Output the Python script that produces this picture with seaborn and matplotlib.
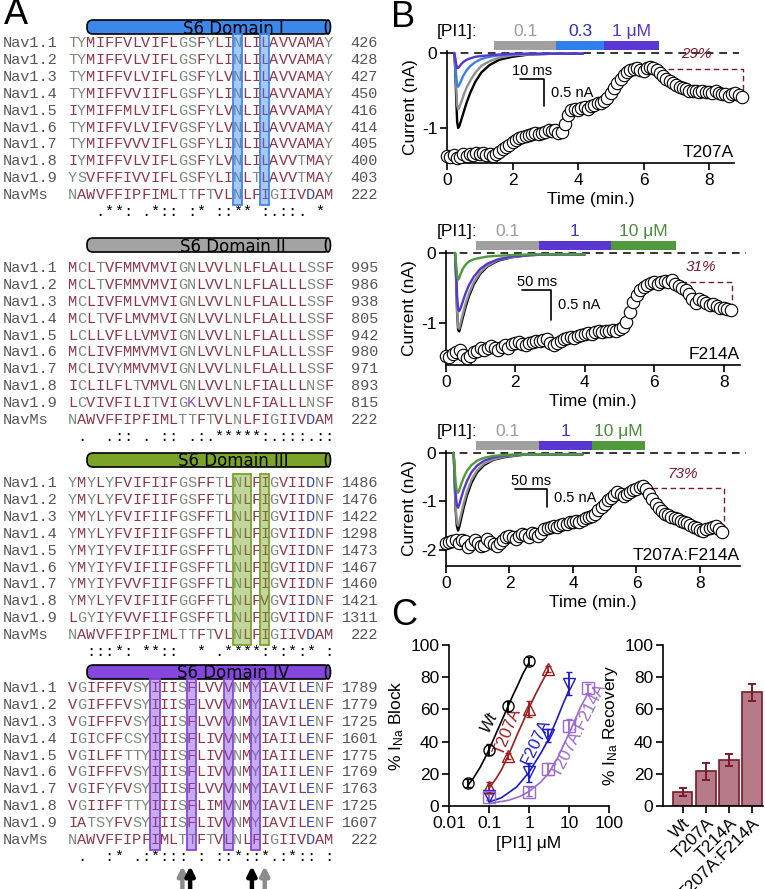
import numpy as np
import matplotlib
matplotlib.use("Agg")
import matplotlib.pyplot as plt
import seaborn as sns
from matplotlib.colors import to_rgba
from matplotlib.patches import FancyBboxPatch, Ellipse, Rectangle

# ---------------- panel A: S6 alignment ----------------
CHANNELS = ["Nav1.1", "Nav1.2", "Nav1.3", "Nav1.4", "Nav1.5",
            "Nav1.6", "Nav1.7", "Nav1.8", "Nav1.9", "NavMs"]

S6_DOMAIN_I = [
    "TYMIFFVLVIFLGSFYLINLILAVVAMAY", "TYMIFFVLVIFLGSFYLINLILAVVAMAY",
    "TYMIFFVLVIFLGSFYLVNLILAVVAMAY", "TYMIFFVVIIFLGSFYLINLILAVVAMAY",
    "IYMIFFMLVIFLGSFYLVNLILAVVAMAY", "TYMIFFVLVIFVGSFYLVNLILAVVAMAY",
    "TYMIFFVVVIFLGSFYLINLILAVVAMAY", "IYMIFFVLVIFLGSFYLVNLILAVVTMAY",
    "YSVFFFIVVIFLGSFYLINLTLAVVTMAY", "NAWVFFIPFIMLTTFTVLNLFIGIIVDAM"]
S6_DOMAIN_II = [
    "MCLTVFMMVMVIGNLVVLNLFLALLLSSF", "MCLTVFMMVMVIGNLVVLNLFLALLLSSF",
    "MCLIVFMLVMVIGNLVVLNLFLALLLSSF", "MCLTVFLMVMVIGNLVVLNLFLALLLSSF",
    "LCLLVFLLVMVIGNLVVLNLFLALLLSSF", "MCLIVFMMVMVIGNLVVLNLFLALLLSSF",
    "MCLIVYMMVMVIGNLVVLNLFLALLLSSF", "ICLILFLTVMVLGNLVVLNLFIALLLNSF",
    "LCVIVFILITVIGKLVVLNLFIALLLNSF", "NAWVFFIPFIMLTTFTVLNLFIGIIVDAM"]
S6_DOMAIN_III = [
    "YMYLYFVIFIIFGSFFTLNLFIGVIIDNF", "YMYLYFVIFIIFGSFFTLNLFIGVIIDNF",
    "YMYLYFVIFIIFGSFFTLNLFIGVIIDNF", "YMYLYFVIFIIFGSFFTLNLFIGVIIDNF",
    "YMYIYFVIFIIFGSFFTLNLFIGVIIDNF", "YMYIYFVIFIIFGSFFTLNLFIGVIIDNF",
    "YMYIYFVVFIIFGSFFTLNLFIGVIIDNF", "YMYLYFVIFIIFGGFFTLNLFVGVIIDNF",
    "LGYIYFVVFIIFGSFFTLNLFIGVIIDNF", "NAWVFFIPFIMLTTFTVLNLFIGIIVDAM"]
S6_DOMAIN_IV = [
    "VGIFFFVSYIIISFLVVVNMYIAVILENF", "VGIFFFVSYIIISFLVVVNMYIAVILENF",
    "VGIFFFVSYIIISFLVVVNMYIAVILENF", "IGICFFCSYIIISFLIVVNMYIAIILENF",
    "VGILFFTTYIIISFLIVVNMYIAIILENF", "VGIFFFVSYIIISFLIVVNMYIAIILENF",
    "VGIFYFVSYIIISFLVVVNMYIAVILENF", "VGIIFFTTYIIISFLIMVNMYIAVILENF",
    "IATSYFVSYIIISFLIVVNMYIAVILENF", "NAWVFFIPFIMLTTFTVLNLFIGIIVDAM"]
END_I = [426, 428, 427, 450, 416, 414, 405, 400, 403, 222]
END_II = [995, 986, 938, 805, 942, 980, 971, 893, 815, 222]
END_III = [1486, 1476, 1422, 1298, 1473, 1467, 1460, 1421, 1311, 222]
END_IV = [1789, 1779, 1725, 1601, 1775, 1769, 1763, 1725, 1607, 222]
CONSERVATION = ["   .**: .*:: :* ::** :.::. * ",
                " .  .:: . :: .:.*****:.:::.::",
                "  :::*: **::  * .****:*:*:* :",
                " .  :* .:*::: : ::*::*.:*:: :"]
DOMAIN_TITLES = ["S6 Domain I", "S6 Domain II", "S6 Domain III", "S6 Domain IV"]
DOMAIN_COLORS = ["#3d86ea", "#a3a3a3", "#7ba329", "#8446dc"]
# (first column, number of columns) of each highlighted block
HIGHLIGHTS = [[(18, 1), (21, 1)], [], [(18, 2), (21, 1)],
              [(9, 1), (13, 1), (17, 1), (20, 1)]]
ARROW_COLS = [12.0, 12.85, 19.6, 21.0]
ARROW_COLORS = ["#8c8c8c", "black", "black", "#8c8c8c"]

RESIDUE_COLORS = {"AVFPMILW": "#8f3648", "STYHCNGQ": "#7c8b7c",
                  "DE": "#3443c8", "RK": "#8a4fd6"}

# ---------------- panel B: PI1 wash-in / wash-out ----------------
B_TIME_MIN = [
    0.0, 0.1, 0.2, 0.3, 0.4, 0.5, 0.6, 0.7, 0.8, 0.9,
    1.0, 1.1, 1.2, 1.3, 1.4, 1.5, 1.6, 1.7, 1.8, 1.9,
    2.0, 2.1, 2.2, 2.3, 2.4, 2.5, 2.6, 2.7, 2.8, 2.9,
    3.0, 3.1, 3.2, 3.3, 3.4, 3.5, 3.6, 3.7, 3.8, 3.9,
    4.0, 4.1, 4.2, 4.3, 4.4, 4.5, 4.6, 4.7, 4.8, 4.9,
    5.0, 5.1, 5.2, 5.3, 5.4, 5.5, 5.6, 5.7, 5.8, 5.9,
    6.0, 6.1, 6.2, 6.3, 6.4, 6.5, 6.6, 6.7, 6.8, 6.9,
    7.0, 7.1, 7.2, 7.3, 7.4, 7.5, 7.6, 7.7, 7.8, 7.9,
    8.0, 8.1, 8.2, 8.3, 8.4, 8.5, 8.6, 8.7, 8.8, 8.9, 9.0]
T207A_CURRENT = [
    -1.37, -1.39, -1.36, -1.40, -1.38, -1.35, -1.37, -1.34, -1.36, -1.33,
    -1.35, -1.33, -1.36, -1.34, -1.37, -1.35, -1.32, -1.28, -1.25, -1.22,
    -1.18, -1.16, -1.13, -1.12, -1.10, -1.09, -1.08, -1.07, -1.08, -1.06,
    -1.05, -1.03, -1.04, -1.02, -1.06, -1.05, -0.95, -0.82, -0.76, -0.74,
    -0.76, -0.73, -0.72, -0.74, -0.70, -0.69, -0.67, -0.66, -0.64, -0.60,
    -0.53, -0.46, -0.40, -0.34, -0.29, -0.25, -0.23, -0.21, -0.20, -0.22,
    -0.24, -0.20, -0.18, -0.20, -0.23, -0.27, -0.31, -0.34, -0.37, -0.40,
    -0.43, -0.45, -0.47, -0.48, -0.50, -0.50, -0.51, -0.52, -0.51, -0.52,
    -0.52, -0.53, -0.51, -0.53, -0.55, -0.54, -0.57, -0.55, -0.53, -0.56,
    -0.58]
F214A_CURRENT = [
    -1.47, -1.48, -1.44, -1.41, -1.38, -1.45, -1.50, -1.47, -1.42, -1.40,
    -1.36, -1.38, -1.35, -1.33, -1.36, -1.38, -1.34, -1.32, -1.35, -1.30,
    -1.28, -1.27, -1.30, -1.32, -1.29, -1.27, -1.25, -1.26, -1.24, -1.23,
    -1.28, -1.31, -1.28, -1.25, -1.23, -1.22, -1.20, -1.21, -1.18, -1.17,
    -1.15, -1.14, -1.15, -1.13, -1.12, -1.13, -1.11, -1.12, -1.10, -1.11,
    -1.08, -1.06, -0.98, -0.84, -0.70, -0.60, -0.53, -0.48, -0.45, -0.43,
    -0.42, -0.44, -0.42, -0.40, -0.42, -0.38, -0.44, -0.47, -0.50, -0.53,
    -0.58, -0.65, -0.72, -0.66, -0.68, -0.71, -0.74, -0.73, -0.76, -0.78,
    -0.79, -0.80, -0.81]
DOUBLE_CURRENT = [
    -1.86, -1.84, -1.82, -1.80, -1.85, -1.79, -1.82, -1.94, -1.88, -1.80,
    -1.86, -1.92, -1.89, -1.78, -1.84, -1.88, -1.92, -1.85, -1.79, -1.74,
    -1.72, -1.74, -1.77, -1.72, -1.68, -1.70, -1.73, -1.66, -1.68, -1.71,
    -1.64, -1.57, -1.55, -1.53, -1.50, -1.52, -1.48, -1.46, -1.47, -1.43,
    -1.42, -1.40, -1.43, -1.38, -1.35, -1.33, -1.30, -1.25, -1.18, -1.12,
    -1.06, -0.98, -0.92, -0.86, -0.80, -0.84, -0.88, -0.85, -0.80, -0.76,
    -0.74, -0.71, -0.69, -0.74, -0.85, -0.95, -1.05, -1.14, -1.20, -1.25,
    -1.28, -1.32, -1.35, -1.37, -1.40, -1.43, -1.45, -1.49, -1.52, -1.55,
    -1.58, -1.60, -1.57, -1.55, -1.52, -1.50, -1.56, -1.62]
B_CURRENTS = [T207A_CURRENT, F214A_CURRENT, DOUBLE_CURRENT]
B_MUTANTS = ["T207A", "F214A", "T207A:F214A"]
B_RECOVERY_TEXT = ["29%", "31%", "73%"]

# sodium current sweeps drawn as insets (x in the same minute axis)
TRACE_T_T207A = [0.22, 0.25, 0.28, 0.31, 0.34, 0.38, 0.43, 0.50, 0.60,
                 0.72, 0.87, 1.05, 1.30, 1.60, 2.00, 2.50, 3.20, 4.15]
TRACES_T207A = [
    [0, -0.20, -0.60, -0.92, -1.00, -0.97, -0.90, -0.80, -0.66,
     -0.52, -0.38, -0.26, -0.16, -0.09, -0.05, -0.02, -0.01, -0.01],
    [0, -0.15, -0.45, -0.70, -0.75, -0.72, -0.66, -0.57, -0.46,
     -0.36, -0.26, -0.17, -0.11, -0.06, -0.03, -0.02, -0.01, -0.01],
    [0, -0.10, -0.30, -0.43, -0.45, -0.42, -0.37, -0.30, -0.23,
     -0.17, -0.12, -0.08, -0.05, -0.03, -0.02, -0.01, -0.01, -0.01],
    [0, -0.06, -0.15, -0.20, -0.20, -0.18, -0.15, -0.12, -0.09,
     -0.07, -0.05, -0.04, -0.03, -0.02, -0.01, -0.01, -0.01, -0.01]]
TRACE_T_F214A = [0.26, 0.29, 0.32, 0.35, 0.38, 0.42, 0.48, 0.56, 0.66,
                 0.80, 0.98, 1.20, 1.50, 1.90, 2.40, 3.00, 4.00]
TRACES_F214A = [
    [0, -0.35, -0.85, -1.10, -1.12, -1.05, -0.93, -0.78, -0.62,
     -0.45, -0.30, -0.19, -0.11, -0.06, -0.03, -0.02, -0.02],
    [0, -0.33, -0.82, -1.06, -1.08, -1.00, -0.88, -0.73, -0.58,
     -0.42, -0.28, -0.18, -0.10, -0.06, -0.03, -0.02, -0.02],
    [0, -0.25, -0.62, -0.80, -0.83, -0.79, -0.70, -0.58, -0.46,
     -0.34, -0.23, -0.15, -0.09, -0.05, -0.03, -0.02, -0.02],
    [0, -0.15, -0.32, -0.38, -0.36, -0.30, -0.23, -0.17, -0.12,
     -0.09, -0.07, -0.05, -0.04, -0.03, -0.02, -0.02, -0.02]]
TRACE_T_DOUBLE = [0.24, 0.27, 0.30, 0.34, 0.38, 0.42, 0.48, 0.56, 0.66,
                  0.80, 0.98, 1.20, 1.50, 1.90, 2.40, 3.00, 4.30]
TRACES_DOUBLE = [
    [0, -0.50, -1.15, -1.50, -1.60, -1.52, -1.35, -1.12, -0.88,
     -0.62, -0.40, -0.25, -0.14, -0.08, -0.04, -0.03, -0.03],
    [0, -0.47, -1.08, -1.41, -1.50, -1.42, -1.25, -1.03, -0.80,
     -0.56, -0.36, -0.22, -0.13, -0.07, -0.04, -0.03, -0.03],
    [0, -0.36, -0.82, -1.07, -1.13, -1.06, -0.92, -0.75, -0.58,
     -0.40, -0.26, -0.16, -0.09, -0.05, -0.03, -0.03, -0.03],
    [0, -0.27, -0.60, -0.78, -0.82, -0.76, -0.64, -0.50, -0.37,
     -0.25, -0.16, -0.10, -0.06, -0.04, -0.03, -0.03, -0.03]]
B_TRACE_T = [TRACE_T_T207A, TRACE_T_F214A, TRACE_T_DOUBLE]
B_TRACES = [TRACES_T207A, TRACES_F214A, TRACES_DOUBLE]
B_TRACE_COLORS = [["black", "#8f8f8f", "#3f80e6", "#5a37d2"],
                  ["black", "#8f8f8f", "#5836cf", "#4e9a3c"],
                  ["black", "#8f8f8f", "#5836cf", "#4e9a3c"]]

# PI1 application epochs (minutes) and doses
PI1_EPOCHS = [[1.43, 3.34, 4.80, 6.47],
              [0.86, 2.68, 4.75, 6.63],
              [0.94, 2.93, 4.60, 6.27]]
PI1_DOSES = [["0.1", "0.3", "1 \u03bcM"], ["0.1", "1", "10 \u03bcM"],
             ["0.1", "1", "10 \u03bcM"]]
PI1_BAR_COLORS = [["#a0a0a0", "#2f80ea", "#5a37d2"],
                  ["#a0a0a0", "#5836cf", "#4e9a3c"],
                  ["#a0a0a0", "#5836cf", "#4e9a3c"]]
PI1_TEXT_COLORS = [["#9c9c9c", "#2b30b5", "#5533c8"],
                   ["#9c9c9c", "#4433bb", "#4a8c3a"],
                   ["#9c9c9c", "#4433bb", "#4a8c3a"]]
SCALE_TIME = ["10 ms", "50 ms", "50 ms"]

# ---------------- panel C ----------------
WT_CONC, WT_BLOCK, WT_SEM = [0.03, 0.1, 0.3, 1.0], [14, 35, 62, 90], [2.5, 3.5, 3, 2.5]
T207A_CONC, T207A_BLOCK, T207A_SEM = [0.1, 0.3, 1, 3], [12, 31, 60, 85], [3, 2, 5, 2]
F207A_CONC, F207A_BLOCK, F207A_SEM = [0.1, 1, 3, 10], [6, 21, 44, 76], [2, 6, 4, 7]
DBL_CONC, DBL_BLOCK, DBL_SEM = [0.1, 1, 3, 10, 30], [5.5, 9, 23, 50, 73], [2, 2.5, 3.5, 4, 3]
WT_FIT_X = [0.03, 0.04, 0.06, 0.08, 0.1, 0.15, 0.2, 0.3, 0.4, 0.5, 0.7, 1.0]
WT_FIT_Y = [13, 17, 24, 30, 35, 45, 52, 62, 69, 74, 82, 89]
T207A_FIT_X = [0.1, 0.15, 0.2, 0.3, 0.5, 0.7, 1, 1.5, 2, 3]
T207A_FIT_Y = [11, 17, 22, 31, 44, 52, 61, 70, 76, 84]
F207A_FIT_X = [0.1, 0.2, 0.3, 0.5, 1, 2, 3, 5, 7, 10]
F207A_FIT_Y = [2.5, 5, 8, 12, 21, 33, 41, 54, 63, 72]
DBL_FIT_X = [0.1, 0.3, 0.6, 1, 2, 3, 5, 10, 20, 30]
DBL_FIT_Y = [1.5, 3.5, 6, 9, 15, 20, 29, 45, 62, 70]
DOSE_NAMES = ["Wt", "T207A", "F207A", "T207A:F214A"]
DOSE_COLORS = ["black", "#9b1c1c", "#1a1acc", "#9a6ad0"]
DOSE_MARKERS = ["o", "^", "v", "s"]
DOSE_LABEL_POS = [(0.1, 52, 65), (0.3, 46, 68), (1.5, 40, 65), (18.0, 47, 63)]

RECOVERY_NAMES = ["Wt", "T207A", "T214A", "T207A:F214A"]
RECOVERY_MEAN = [8.5, 21.5, 28.5, 70.5]
RECOVERY_SEM = [2.5, 5.5, 3.5, 5.5]
DARK_RED = "#7a1a2a"

# ---------------- figure ----------------
W, H = 765, 889
sns.set_theme(style="ticks", rc={"axes.edgecolor": "black", "xtick.color": "black",
                                 "ytick.color": "black", "text.color": "black",
                                 "axes.labelcolor": "black"})
plt.rcParams["font.family"] = ["Liberation Sans", "DejaVu Sans"]
plt.rcParams["mathtext.fontset"] = "custom"
plt.rcParams["mathtext.rm"] = "Liberation Sans"
plt.rcParams["mathtext.it"] = "Liberation Sans:italic"

fig = plt.figure(figsize=(W / 100, H / 100), dpi=100)
ov = fig.add_axes([0, 0, 1, 1])
ov.set_xlim(0, W)
ov.set_ylim(H, 0)
ov.axis("off")


def px_axes(left, top, right, bottom):
    ax = fig.add_axes([left / W, 1 - bottom / H, (right - left) / W, (bottom - top) / H])
    ax.patch.set_visible(False)
    return ax


def style(ax, size=12.5):
    sns.despine(ax=ax)
    for s in ("left", "bottom"):
        ax.spines[s].set_linewidth(1.2)
    ax.tick_params(direction="out", length=5, width=1.2, labelsize=size, pad=2)


def residue_color(aa):
    for group, c in RESIDUE_COLORS.items():
        if aa in group:
            return c
    return "#7c8b7c"


# ---- panel A ----
CW, X0, PITCH = 9.15, 68, 16.9
ROW0 = [43, 268, 483, 688]
BAR_TOP = [20, 238, 453, 665]
mono = dict(family="Liberation Mono", fontsize=11, va="center")


def col_x(i):
    return X0 + (i + 0.5) * CW


blocks = zip([S6_DOMAIN_I, S6_DOMAIN_II, S6_DOMAIN_III, S6_DOMAIN_IV],
             [END_I, END_II, END_III, END_IV], CONSERVATION,
             DOMAIN_TITLES, DOMAIN_COLORS, HIGHLIGHTS)
for b, (seqs, ends, cons, title, color, hl) in enumerate(blocks):
    y0, bt, bh = ROW0[b], BAR_TOP[b], 14
    ov.add_patch(FancyBboxPatch((87, bt), 243, bh, boxstyle="round,pad=0,rounding_size=6",
                                fc=color, ec="black", lw=1.2))
    ov.add_patch(Ellipse((328, bt + bh / 2), 5, bh, fc=color, ec="black", lw=1.2))
    ov.text(233, bt + bh / 2 + 1.5, title, ha="center", va="center",
            fontsize=12, family="DejaVu Sans")
    for r, (name, seq, end) in enumerate(zip(CHANNELS, seqs, ends)):
        y = y0 + r * PITCH
        ov.text(3, y, name, color="#555555", ha="left", **mono)
        for i, aa in enumerate(seq):
            ov.text(col_x(i), y, aa, color=residue_color(aa), ha="center", **mono)
        ov.text(378, y, str(end), color="#555555", ha="right", **mono)
    yc = y0 + len(CHANNELS) * PITCH
    for i, c in enumerate(cons):
        if c != " ":
            ov.text(col_x(i), yc, c, color="black", ha="center", **mono)
    for col, n in hl:
        ov.add_patch(Rectangle((X0 + col * CW, y0 - 9), n * CW, 9 * PITCH + 19,
                               fc=to_rgba(color, 0.45), ec=color, lw=1.3, zorder=3))

for col, c in zip(ARROW_COLS, ARROW_COLORS):
    ov.annotate("", xy=(col_x(col), 866), xytext=(col_x(col), 889),
                arrowprops=dict(arrowstyle="-|>", lw=3.2, color=c, mutation_scale=13,
                                shrinkA=0, shrinkB=0))

for letter, x, y in [("A", 4, -3), ("B", 391, 0), ("C", 391, 598)]:
    ov.text(x, y, letter, fontsize=26, va="top", ha="left")

# ---- panel B ----
B_AX_PX = [(447, 50.75, 733.6, 163.25), (446, 250.9, 740, 365), (446, 451, 740, 566)]
B_XLIM = [(0, 8.75), (0, 8.47), (0, 9.26)]
B_YLIM = [(-1.47, 0.03), (-1.6, 0.03), (-2.33, 0.04)]
B_YTICKS = [[-1, 0], [-1, 0], [-2, -1, 0]]
SCALE_BARS = [(2.23, 2.96, -0.35, -0.71), (2.19, 3.03, -0.53, -0.96), (2.17, 3.18, -0.75, -1.11)]

for k in range(3):
    ax = px_axes(*B_AX_PX[k])
    curr = np.array(B_CURRENTS[k])
    t = np.array(B_TIME_MIN[:len(curr)])

    ax.axhline(0, xmax=1.02, ls=(0, (4, 3)), color="#333333", lw=1.4, clip_on=False)
    for vals, c in zip(B_TRACES[k], B_TRACE_COLORS[k]):
        sns.lineplot(x=B_TRACE_T[k], y=vals, color=c, lw=1.7, ax=ax,
                     sort=False, estimator=None, legend=False)
    sns.scatterplot(x=t, y=curr, s=80, color="white", edgecolor="black",
                    linewidth=0.8, ax=ax, zorder=4, clip_on=False, legend=False)

    # recovery bracket from the peak to the last sample
    pk = int(np.argmax(curr))
    ax.plot([t[pk], t[-1] + 0.05, t[-1] + 0.05], [curr[pk] - 0.03, curr[pk] - 0.03, curr[-1]],
            ls=(0, (4, 2.5)), color=DARK_RED, lw=1.0, zorder=3, clip_on=False)
    ax.annotate(B_RECOVERY_TEXT[k], xy=((t[pk] + t[-1]) / 2, curr[pk]), xytext=(0, 4),
                textcoords="offset points", ha="center", va="bottom",
                color=DARK_RED, fontsize=11, style="italic")

    # PI1 application bars
    ep = PI1_EPOCHS[k]
    for j in range(3):
        ax.axvspan(ep[j], ep[j + 1], ymin=1.005, ymax=1.085,
                   color=PI1_BAR_COLORS[k][j], lw=0, clip_on=False)
        ax.text((ep[j] + ep[j + 1]) / 2, 1.17, PI1_DOSES[k][j],
                transform=ax.get_xaxis_transform(), ha="center", va="center",
                color=PI1_TEXT_COLORS[k][j], fontsize=12.5)
    ax.text(0.108, 1.17, "[PI1]:", transform=ax.transAxes, ha="right",
            va="center", fontsize=12.5)

    # inset scale bar
    x0, x1, y0, y1 = SCALE_BARS[k]
    ax.plot([x0, x1, x1], [y0, y0, y1], color="black", lw=1.2)
    ax.annotate(SCALE_TIME[k], xy=((x0 + x1) / 2, y0), xytext=(0, 1),
                textcoords="offset points", ha="center", va="bottom", fontsize=10.5)
    ax.annotate("0.5 nA", xy=(x1, (y0 + y1) / 2), xytext=(5, 0),
                textcoords="offset points", ha="left", va="center", fontsize=10.5)

    ax.text(1.0, 0.03, B_MUTANTS[k], transform=ax.transAxes, ha="right",
            va="bottom", fontsize=12.5)
    ax.set_xlim(*B_XLIM[k])
    ax.set_ylim(*B_YLIM[k])
    ax.set_xticks([0, 2, 4, 6, 8])
    ax.set_yticks(B_YTICKS[k])
    ax.set_yticklabels([str(v) for v in B_YTICKS[k]])
    ax.set_xlabel("Time (min.)", fontsize=12.5, labelpad=3)
    ax.set_ylabel("Current (nA)", fontsize=12.5, labelpad=3)
    style(ax)

# ---- panel C: dose response ----
axc = px_axes(449, 645, 609, 806)
series = [(WT_CONC, WT_BLOCK, WT_SEM, WT_FIT_X, WT_FIT_Y),
          (T207A_CONC, T207A_BLOCK, T207A_SEM, T207A_FIT_X, T207A_FIT_Y),
          (F207A_CONC, F207A_BLOCK, F207A_SEM, F207A_FIT_X, F207A_FIT_Y),
          (DBL_CONC, DBL_BLOCK, DBL_SEM, DBL_FIT_X, DBL_FIT_Y)]
for (cx, cy, ce, fx, fy), name, c, m, (lx, ly, rot) in zip(
        series, DOSE_NAMES, DOSE_COLORS, DOSE_MARKERS, DOSE_LABEL_POS):
    sns.lineplot(x=fx, y=fy, color=c, lw=1.2, ax=axc, sort=False,
                 estimator=None, legend=False)
    axc.errorbar(cx, cy, yerr=ce, fmt=m, mfc="none", mec=c, ecolor=c, ms=8,
                 mew=1.0, capsize=2.5, elinewidth=1.3, capthick=1.3, clip_on=False, zorder=3)
    axc.text(lx, ly, name, color=c, rotation=rot, ha="center", va="center",
             fontsize=12, style="italic" if name == "Wt" else "normal")
axc.set_xscale("log")
axc.set_xlim(0.01, 100)
axc.set_ylim(0, 100)
axc.set_xticks([0.01, 0.1, 1, 10, 100])
axc.set_xticklabels(["0.01", "0.1", "1", "10", "100"])
axc.xaxis.set_minor_locator(matplotlib.ticker.NullLocator())
axc.set_yticks([0, 20, 40, 60, 80, 100])
axc.set_xlabel("[PI1] \u03bcM", fontsize=12.5, labelpad=4)
axc.set_ylabel("% I$_{\\mathrm{Na}}$ Block", fontsize=12.5, labelpad=3)
style(axc)

# ---- panel C: recovery bars ----
axr = px_axes(663, 645, 763, 806)
sns.barplot(x=RECOVERY_NAMES, y=RECOVERY_MEAN, color="#b77a88", edgecolor=DARK_RED,
            linewidth=1.2, width=0.84, saturation=1, errorbar=None, ax=axr)
axr.errorbar(range(len(RECOVERY_NAMES)), RECOVERY_MEAN, yerr=RECOVERY_SEM, fmt="none",
             ecolor=DARK_RED, elinewidth=1.4, capsize=3, capthick=1.4)
axr.set_xlim(-0.85, 3.47)
axr.set_ylim(0, 100)
axr.set_yticks([0, 20, 40, 60, 80, 100])
axr.set_xticks(range(len(RECOVERY_NAMES)))
axr.set_xticklabels(RECOVERY_NAMES, rotation=45, ha="right", rotation_mode="anchor")
axr.set_xlabel("")
axr.set_ylabel("% I$_{\\mathrm{Na}}$ Recovery", fontsize=12.5, labelpad=3)
style(axr)

fig.savefig("out.png", dpi=100)
